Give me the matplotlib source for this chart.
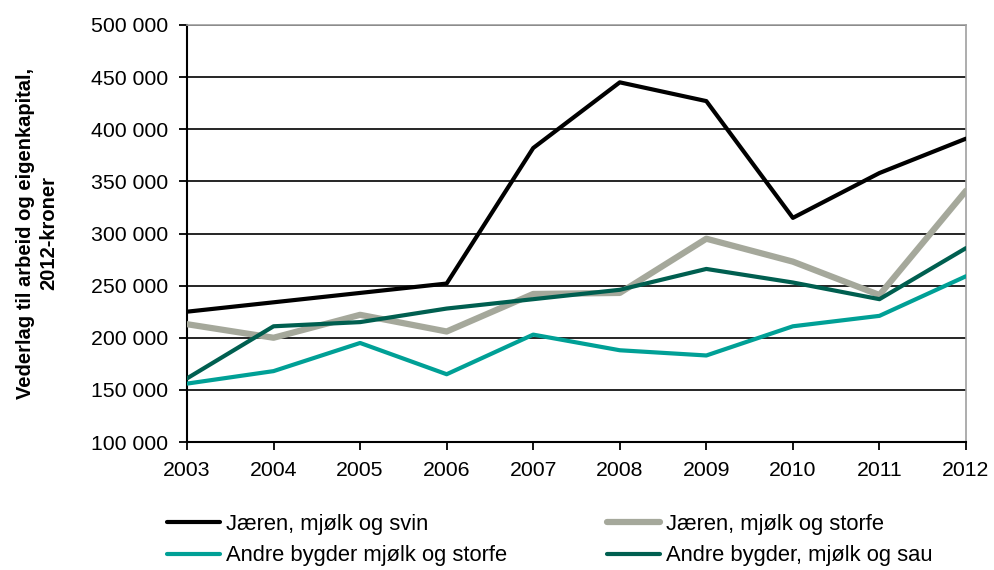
import matplotlib
matplotlib.use("Agg")
import matplotlib.pyplot as plt
from matplotlib.ticker import FuncFormatter

plt.rcParams['font.family'] = ['Liberation Sans', 'DejaVu Sans']

years = [2003, 2004, 2005, 2006, 2007, 2008, 2009, 2010, 2011, 2012]
jaeren_svin = [225000, 234000, 243000, 252000, 382000, 445000, 427000, 315000, 358000, 391000]
jaeren_storfe = [213000, 200000, 222000, 206000, 242000, 243000, 295000, 273000, 241000, 341000]
andre_storfe = [156000, 168000, 195000, 165000, 203000, 188000, 183000, 211000, 221000, 259000]
andre_sau = [161000, 211000, 215000, 228000, 237000, 246000, 266000, 253000, 237000, 286000]

labels = ["Jæren, mjølk og svin", "Jæren, mjølk og storfe",
          "Andre bygder mjølk og storfe", "Andre bygder, mjølk og sau"]
ylabel = "Vederlag til arbeid og eigenkapital,\n2012-kroner"

W, H = 995, 570
fig = plt.figure(figsize=(W / 100, H / 100), dpi=100)
ax = fig.add_axes([187 / W, 1 - 442 / H, (966 - 187) / W, (442 - 25) / H])

kw = dict(solid_capstyle='round', solid_joinstyle='round')
l1, = ax.plot(years, jaeren_svin, color='#000000', lw=3.0, label=labels[0], zorder=5, **kw)
l2, = ax.plot(years, jaeren_storfe, color='#a5a89b', lw=4.5, label=labels[1], zorder=3, **kw)
l3, = ax.plot(years, andre_storfe, color='#00a096', lw=3.0, label=labels[2], zorder=4, **kw)
l4, = ax.plot(years, andre_sau, color='#005f50', lw=3.0, label=labels[3], zorder=4, **kw)

ax.set_xlim(2003, 2012)
ax.set_ylim(100000, 500000)
ax.set_yticks(range(100000, 500001, 50000))
ax.set_xticks(years)
ax.yaxis.set_major_formatter(FuncFormatter(lambda v, p: f"{int(v):,}".replace(",", " ")))
ax.yaxis.grid(True, color='#000000', lw=1.2)
ax.set_axisbelow(True)

for s in ['top', 'right']:
    ax.spines[s].set_color('#a0a0a0')
    ax.spines[s].set_linewidth(1.2)
for s in ['left', 'bottom']:
    ax.spines[s].set_color('#000000')
    ax.spines[s].set_linewidth(1.5)

ax.tick_params(axis='both', direction='out', length=5.5, width=1.3, labelsize=15.3, color='#000000')
ax.tick_params(axis='x', pad=8)
ax.tick_params(axis='y', pad=8)

ax.set_ylabel(ylabel, fontsize=14.5, fontweight='bold', linespacing=1.25)
ax.yaxis.set_label_coords((58 - 187) / (966 - 187), 0.5)

lkw = dict(loc='center left', frameon=False, fontsize=15.8, handlelength=2.4,
           handletextpad=0.28, labelspacing=0.5, borderaxespad=0, borderpad=0)
fig.legend(handles=[l1, l3], labels=[labels[0], labels[2]],
           bbox_to_anchor=(167 / W, 1 - 540 / H), **lkw)
fig.legend(handles=[l2, l4], labels=[labels[1], labels[3]],
           bbox_to_anchor=(607 / W, 1 - 540 / H), **lkw)

fig.savefig("out.png", dpi=100)
